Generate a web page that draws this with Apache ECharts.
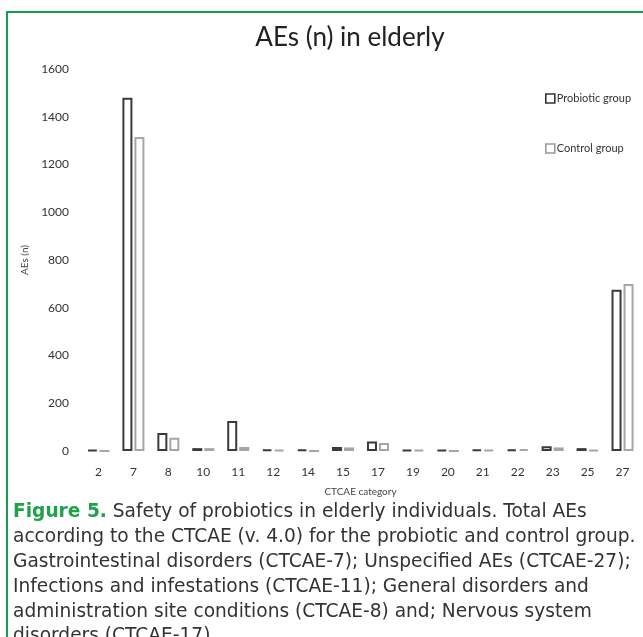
<!DOCTYPE html>
<html>
<head>
<meta charset="utf-8">
<script src="https://cdn.jsdelivr.net/npm/echarts@6/dist/echarts.min.js"></script>
<style>
html,body{margin:0;padding:0;background:#fff;}
#chart{width:643px;height:637px;}
</style>
</head>
<body>
<div id="chart"></div>
<script>
const categories = ['2','7','8','10','11','12','14','15','17','19','20','21','22','23','25','27'];
const probiotic = [5,1480,75,12,126,6,6,17,40,5,5,6,7,20,12,675];
const control   = [0,1315,55,12,17,5,0,15,33,5,0,4,8,15,5,700];
const yTicks = {min:0, max:1600, interval:200};
const seriesNames = ['Probiotic group','Control group'];
const captionLines = [
  [{t:'Figure 5.', s:'fig'},{t:' Safety of probiotics in elderly individuals. Total AEs', s:'body'}],
  [{t:'according to the CTCAE (v. 4.0) for the probiotic and control group.', s:'body'}],
  [{t:'Gastrointestinal disorders (CTCAE-7); Unspecified AEs (CTCAE-27);', s:'body'}],
  [{t:'Infections and infestations (CTCAE-11); General disorders and', s:'body'}],
  [{t:'administration site conditions (CTCAE-8) and; Nervous system', s:'body'}],
  [{t:'disorders (CTCAE-17).', s:'body'}]
];

const chart = echarts.init(document.getElementById('chart'), null, {renderer:'canvas'});
const lblFont = 'Lato, "Open Sans", sans-serif';
const capFont = '"DejaVu Sans", "Open Sans", sans-serif';
const capSize = 18.6;

const graphics = [
  {type:'line', shape:{x1:7, y1:12, x2:7, y2:637}, style:{stroke:'#14a04a', lineWidth:2}},
  {type:'line', shape:{x1:6, y1:12, x2:643, y2:12}, style:{stroke:'#14a04a', lineWidth:2}}
];
captionLines.forEach((line, i) => {
  const rich = {
    fig:{fill:'#1ea24a', fontWeight:'bold', fontSize:capSize, fontFamily:capFont},
    body:{fill:'#333', fontSize:capSize, fontFamily:capFont}
  };
  graphics.push({
    type:'text', left:13, top:503 + i*24.8,
    style:{
      text: line.map(p => '{' + p.s + '|' + p.t + '}').join(''),
      rich: rich, fontSize:capSize, fontFamily:capFont
    }
  });
});

chart.setOption({
  backgroundColor:'#fff',
  animation:false,
  title:{
    text:'AEs (n) in elderly', left:345, top:20, textAlign:'center',
    textStyle:{fontFamily:lblFont, fontSize:26, fontWeight:'normal', color:'#222'}
  },
  legend:{
    orient:'vertical', left:540, top:88, itemGap:39,
    itemWidth:9, itemHeight:9, icon:'rect',
    textStyle:{fontFamily:lblFont, fontSize:11, color:'#333', padding:[0,0,0,-3]},
    data:[
      {name:seriesNames[0], itemStyle:{color:'#fff', borderColor:'#333', borderWidth:1.6}},
      {name:seriesNames[1], itemStyle:{color:'#fff', borderColor:'#999', borderWidth:1.6}}
    ]
  },
  grid:{left:81, right:3, top:69, bottom:186, containLabel:false},
  xAxis:{
    type:'category', data:categories,
    name:'CTCAE category', nameLocation:'middle', nameGap:36,
    nameTextStyle:{fontFamily:lblFont, fontSize:10, color:'#444'},
    axisLine:{show:false}, axisTick:{show:false},
    axisLabel:{fontFamily:lblFont, fontSize:12, color:'#333', margin:15}
  },
  yAxis:{
    type:'value', min:yTicks.min, max:yTicks.max, interval:yTicks.interval,
    name:'AEs (n)', nameLocation:'middle', nameGap:50, nameRotate:90,
    nameTextStyle:{fontFamily:lblFont, fontSize:10, color:'#444'},
    axisLine:{show:false}, axisTick:{show:false}, splitLine:{show:false},
    axisLabel:{fontFamily:lblFont, fontSize:12, color:'#333', margin:12,
      formatter: v => String(v)}
  },
  series:[
    {name:seriesNames[0], type:'bar', data:probiotic, barWidth:10, barGap:'20%',
     itemStyle:{color:'#fff', borderColor:'#3a3a3a', borderWidth:2}},
    {name:seriesNames[1], type:'bar', data:control, barWidth:10,
     itemStyle:{color:'#fff', borderColor:'#a6a6a6', borderWidth:2}}
  ],
  graphic:graphics
});
</script>
</body>
</html>
